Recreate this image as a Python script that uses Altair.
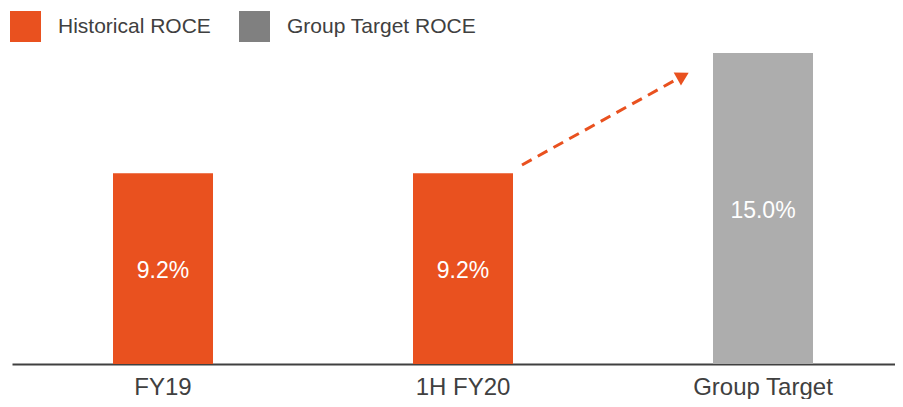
import altair as alt
import pandas as pd

# ---- data ----
categories = ["FY19", "1H FY20", "Group Target"]
values = [9.2, 9.2, 15.0]
series = ["Historical ROCE", "Historical ROCE", "Group Target ROCE"]
labels = ["9.2%", "9.2%", "15.0%"]
bar_colors = ["#E9511F", "#E9511F", "#ADADAD"]

legend_names = ["Historical ROCE", "Group Target ROCE"]
legend_colors = ["#E9511F", "#808080"]

arrow_from = ["1H FY20"]
arrow_to = ["Group Target"]
arrow_start_value = [9.6]
arrow_end_value = [13.9]

df = pd.DataFrame({
    "category": categories,
    "value": values,
    "series": series,
    "label": labels,
    "fill": bar_colors,
})
arrow_df = pd.DataFrame({
    "from": arrow_from,
    "to": arrow_to,
    "v0": arrow_start_value,
    "v1": arrow_end_value,
})

FONT = "Liberation Sans"
ORANGE = "#E9511F"

x_scale = alt.Scale(domain=categories, range=[0, 902],
                    paddingInner=2 / 3, paddingOuter=0.3367)
y_scale = alt.Scale(domain=[0, 15], nice=False)

x_enc = alt.X(
    "category:N",
    scale=x_scale,
    sort=categories,
    axis=alt.Axis(
        title=None, labelAngle=0, ticks=False, labelPadding=11,
        labelFontSize=24, labelColor="#404040", labelFont=FONT,
        domainColor="#404040", domainWidth=2,
    ),
)
y_enc = alt.Y("value:Q", scale=y_scale, axis=None)

base = alt.Chart(df)

bars = base.mark_bar().encode(
    x=x_enc,
    y=y_enc,
    fill=alt.Fill("fill:N", scale=None),
)

legend_layer = base.mark_square(size=0, opacity=0).encode(
    x=alt.X("category:N", scale=x_scale, sort=categories),
    y=alt.Y("value:Q", scale=y_scale),
    color=alt.Color(
        "series:N",
        scale=alt.Scale(domain=legend_names, range=legend_colors),
        legend=alt.Legend(
            title=None, orient="none", direction="horizontal",
            legendX=-2, legendY=-42, padding=0,
            symbolType="square", symbolSize=961, symbolOpacity=1,
            symbolStrokeWidth=0, labelFontSize=21, labelFont=FONT,
            labelColor="#404040", labelOffset=17, columnPadding=28,
            labelLimit=400,
        ),
    ),
)

text = base.transform_calculate(mid="datum.value / 2").mark_text(
    color="white", fontSize=23, font=FONT, baseline="middle", dy=2
).encode(
    x=alt.X("category:N", scale=x_scale, sort=categories),
    y=alt.Y("mid:Q", scale=y_scale),
    text="label:N",
)

arrow_line = alt.Chart(arrow_df).mark_rule(
    color=ORANGE, strokeWidth=3, strokeDash=[11, 7], xOffset=59, x2Offset=-80
).encode(
    x=alt.X("from:N", scale=x_scale, sort=categories),
    x2="to:N",
    y=alt.Y("v0:Q", scale=y_scale),
    y2="v1:Q",
)

arrow_head = alt.Chart(arrow_df).mark_point(
    shape="triangle-up", filled=True, size=225, angle=61, color=ORANGE,
    opacity=1, xOffset=-80,
).encode(
    x=alt.X("to:N", scale=x_scale, sort=categories),
    y=alt.Y("v1:Q", scale=y_scale),
)

chart = alt.layer(bars, legend_layer, text, arrow_line, arrow_head).properties(
    width=883,
    height=311,
    autosize=alt.AutoSizeParams(type="none"),
    padding={"left": 4, "top": 45, "right": 0, "bottom": 35},
).configure_view(stroke=None).configure_axis(grid=False)

chart.save("out.html", embed_options={"renderer": "svg", "actions": False})
